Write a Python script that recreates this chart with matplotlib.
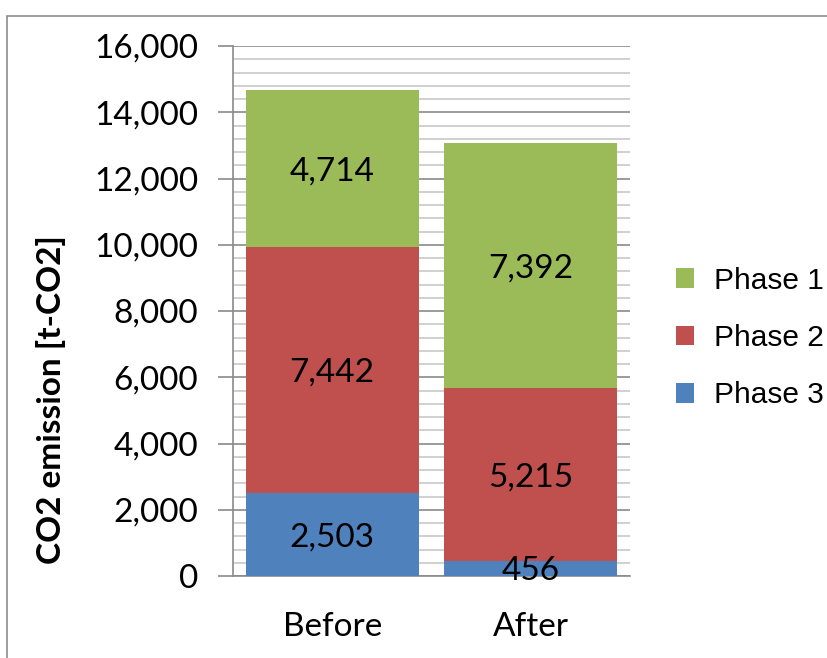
import matplotlib.pyplot as plt
from matplotlib.patches import Rectangle
from matplotlib.ticker import FuncFormatter, MultipleLocator
from matplotlib.transforms import offset_copy

cases = ["Before", "After"]
phase1 = [4714, 7392]
phase2 = [7442, 5215]
phase3 = [2503, 456]
yticks = [0, 2000, 4000, 6000, 8000, 10000, 12000, 14000, 16000]

green = "#9BBB59"
red = "#C0504D"
blue = "#4F81BD"

W, H = 828, 658
fig = plt.figure(figsize=(W / 100, H / 100), dpi=100)
# chart border, runs off the right and bottom edges
fig.patches.append(Rectangle((7 / W, -0.1), 1.2, 1.1 - 16 / H, transform=fig.transFigure,
                             fill=False, edgecolor="#8c8c8c", linewidth=1.2))

ax = fig.add_axes([233 / W, 1 - 576 / H, (630 - 233) / W, (576 - 46) / H])
x = [0, 1]
bottom2 = phase3
bottom1 = [a + b for a, b in zip(phase3, phase2)]
w = 0.87
ax.bar(x, phase3, w, color=blue, label="Phase 3", zorder=3)
ax.bar(x, phase2, w, bottom=bottom2, color=red, label="Phase 2", zorder=3)
ax.bar(x, phase1, w, bottom=bottom1, color=green, label="Phase 1", zorder=3)

lab_font = "Lato"
fs = 24
tr = offset_copy(ax.transData, fig=fig, x=0, y=-2, units="points")
for i in x:
    ax.text(i, phase3[i] / 2, f"{phase3[i]:,}", ha="center", va="center",
            fontsize=fs, family=lab_font, zorder=4, transform=tr)
    ax.text(i, bottom2[i] + phase2[i] / 2, f"{phase2[i]:,}", ha="center", va="center",
            fontsize=fs, family=lab_font, zorder=4, transform=tr)
    ax.text(i, bottom1[i] + phase1[i] / 2, f"{phase1[i]:,}", ha="center", va="center",
            fontsize=fs, family=lab_font, zorder=4, transform=tr)

ax.set_xlim(-0.5, 1.5)
ax.set_ylim(0, 16000)
ax.set_yticks(yticks)
ax.yaxis.set_minor_locator(MultipleLocator(400))
ax.yaxis.set_major_formatter(FuncFormatter(lambda v, p: f"{int(v):,}"))
ax.grid(axis="y", which="major", color="#8a8a8a", linewidth=1.2, zorder=0)
ax.grid(axis="y", which="minor", color="#c8c8c8", linewidth=1.2, zorder=0)
ax.set_xticks(x)
ax.set_xticklabels(cases)
for s in ["top", "right"]:
    ax.spines[s].set_visible(False)
for s in ["left", "bottom"]:
    ax.spines[s].set_color("#8a8a8a")
    ax.spines[s].set_linewidth(1.2)
ax.tick_params(axis="y", which="major", length=11, color="#8a8a8a", width=1.2,
               labelsize=fs, pad=14)
ax.tick_params(axis="y", which="minor", length=0)
ax.tick_params(axis="x", length=0, labelsize=fs, pad=26)
for t in ax.get_yticklabels() + ax.get_xticklabels():
    t.set_family(lab_font)

fig.text(51 / W, 1 - 400 / H, "CO2 emission [t-CO2]", rotation=90, ha="center",
         va="center", fontsize=24, fontweight="bold", family=lab_font)

handles, labels = ax.get_legend_handles_labels()
fig.legend(handles[::-1], labels[::-1], loc="center left",
           bbox_to_anchor=(676 / W, 1 - 338 / H), frameon=False, borderpad=0,
           borderaxespad=0, prop={"family": "Liberation Sans", "size": 21.5},
           handlelength=0.6, handleheight=0.64, labelspacing=0.98, handletextpad=0.66)

fig.savefig("out.png", dpi=100)
